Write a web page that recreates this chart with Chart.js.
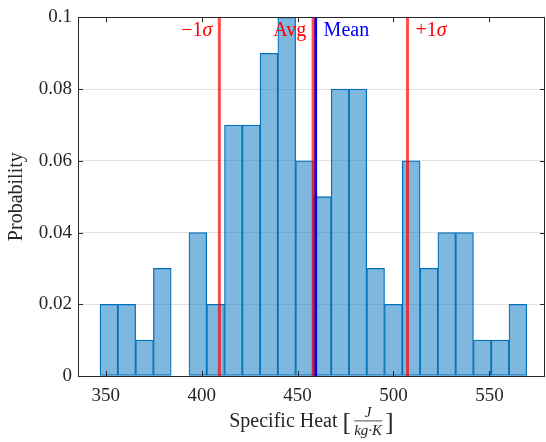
<!DOCTYPE html>
<html>
<head>
<meta charset="utf-8">
<script src="https://cdn.jsdelivr.net/npm/chart.js@4.4.0/dist/chart.umd.min.js"></script>
<style>
  html, body { margin: 0; padding: 0; background: #fff; }
  #wrap { width: 546px; height: 442px; }
</style>
</head>
<body>
<div id="wrap"><canvas id="hist"></canvas></div>
<script>
// histogram bins (centres) and their probabilities
var binCenters = [351.64, 360.91, 370.18, 379.45, 388.72, 397.99, 407.26, 416.53,
                  425.80, 435.07, 444.34, 453.61, 462.88, 472.15, 481.42, 490.69,
                  499.96, 509.23, 518.50, 527.77, 537.04, 546.31, 555.58, 564.85];
var probability = [0.02, 0.02, 0.01, 0.03, 0, 0.04, 0.02, 0.07,
                   0.07, 0.09, 0.10, 0.06, 0.05, 0.08, 0.08, 0.03,
                   0.02, 0.06, 0.03, 0.04, 0.04, 0.01, 0.01, 0.02];
var xTicks = [350, 400, 450, 500, 550];
var yTicks = [0, 0.02, 0.04, 0.06, 0.08, 0.1];

// vertical marker lines
var refNames = ['−1σ', 'Avg', 'Mean', '+1σ'];
var refValues = [409.2, 458.1, 459.4, 507.3];
var refColors = ['rgba(255,0,0,0.7)', 'rgba(255,0,0,0.7)', 'rgb(0,0,255)', 'rgba(255,0,0,0.7)'];
var refTextColors = ['#ff0000', '#ff0000', '#0000ff', '#ff0000'];
var refSide = ['left', 'left', 'right', 'right'];

var serif = '"Liberation Serif", "DejaVu Serif", serif';
var axisColor = '#262626';

var datasets = [{
  type: 'bar',
  data: binCenters.map(function (c, i) { return { x: c, y: probability[i] }; }),
  backgroundColor: 'rgba(0,114,189,0.5)',
  borderColor: 'rgb(0,114,189)',
  borderWidth: 0.6,
  borderSkipped: false,
  barPercentage: 1,
  categoryPercentage: 1,
  order: 2
}];
refValues.forEach(function (v, i) {
  datasets.push({
    type: 'line',
    data: [{ x: v, y: 0 }, { x: v, y: 0.1 }],
    borderColor: refColors[i],
    borderWidth: 3,
    pointRadius: 0,
    order: 1
  });
});

// draws text made of pieces, some italic
function drawRuns(ctx, runs, x, y, size, align) {
  var total = 0;
  runs.forEach(function (r) {
    ctx.font = (r[1] ? 'italic ' : '') + size + 'px ' + serif;
    total += ctx.measureText(r[0]).width;
  });
  var cx = align === 'right' ? x - total : x;
  ctx.textAlign = 'left';
  runs.forEach(function (r) {
    ctx.font = (r[1] ? 'italic ' : '') + size + 'px ' + serif;
    ctx.fillText(r[0], cx, y);
    cx += ctx.measureText(r[0]).width;
  });
}

var framePlugin = {
  id: 'frame',
  afterDraw: function (chart) {
    var ctx = chart.ctx, a = chart.chartArea;
    var xs = chart.scales.x, ys = chart.scales.y;
    ctx.save();
    // box
    ctx.strokeStyle = axisColor;
    ctx.lineWidth = 1;
    ctx.strokeRect(Math.round(a.left) + 0.5, Math.round(a.top) + 0.5,
                   Math.round(a.right - a.left) - 1, Math.round(a.bottom - a.top));
    // inward ticks
    ctx.beginPath();
    xTicks.forEach(function (t) {
      var px = Math.round(xs.getPixelForValue(t)) + 0.5;
      ctx.moveTo(px, a.bottom); ctx.lineTo(px, a.bottom - 5);
      ctx.moveTo(px, a.top); ctx.lineTo(px, a.top + 5);
    });
    yTicks.forEach(function (t) {
      var py = Math.round(ys.getPixelForValue(t)) + 0.5;
      ctx.moveTo(a.left, py); ctx.lineTo(a.left + 5, py);
      ctx.moveTo(a.right, py); ctx.lineTo(a.right - 5, py);
    });
    ctx.stroke();

    // marker labels
    ctx.textBaseline = 'alphabetic';
    refNames.forEach(function (name, i) {
      var px = xs.getPixelForValue(refValues[i]);
      ctx.fillStyle = refTextColors[i];
      var runs = name.indexOf('σ') >= 0 ? [[name.slice(0, -1), false], ['σ', true]] : [[name, false]];
      if (refSide[i] === 'left') drawRuns(ctx, runs, px - 7, 36, 20, 'right');
      else drawRuns(ctx, runs, px + 8, 36, 20, 'left');
    });

    // y title
    ctx.fillStyle = axisColor;
    ctx.save();
    ctx.translate(22, (a.top + a.bottom) / 2);
    ctx.rotate(-Math.PI / 2);
    ctx.font = '20px ' + serif;
    ctx.textAlign = 'center';
    ctx.fillText('Probability', 0, 0);
    ctx.restore();

    // x title: Specific Heat [ J / kg·K ]
    ctx.font = '20px ' + serif;
    var main = 'Specific Heat ';
    var wMain = ctx.measureText(main).width;
    ctx.font = '26px ' + serif;
    var wBr = ctx.measureText('[').width;
    ctx.font = 'italic 15px ' + serif;
    var wDen = ctx.measureText('kg·K').width;
    var total = wMain + wBr * 2 + wDen + 6;
    var x0 = (a.left + a.right) / 2 - total / 2;
    var base = 427;
    ctx.textAlign = 'left';
    ctx.font = '20px ' + serif;
    ctx.fillText(main, x0, base);
    ctx.font = '26px ' + serif;
    ctx.fillText('[', x0 + wMain, base + 3);
    var fx = x0 + wMain + wBr + 3;
    ctx.font = 'italic 15px ' + serif;
    ctx.textAlign = 'center';
    ctx.fillText('J', fx + wDen / 2, base - 10);
    ctx.fillText('kg·K', fx + wDen / 2, base + 8);
    ctx.fillRect(fx, base - 6.5, wDen, 0.8);
    ctx.textAlign = 'left';
    ctx.font = '26px ' + serif;
    ctx.fillText(']', fx + wDen + 3, base + 3);
    ctx.restore();
  }
};

new Chart(document.getElementById('hist'), {
  data: { datasets: datasets },
  options: {
    responsive: true,
    maintainAspectRatio: false,
    animation: false,
    layout: { padding: { top: 16, right: 1, left: 0, bottom: 0 } },
    plugins: { legend: { display: false }, tooltip: { enabled: false } },
    scales: {
      x: {
        type: 'linear',
        offset: false,
        min: 335.5,
        max: 579,
        afterBuildTicks: function (s) { s.ticks = xTicks.map(function (v) { return { value: v }; }); },
        afterFit: function (s) { s.height = 66; },
        grid: { display: false, drawTicks: false, offset: false },
        border: { display: false },
        ticks: { color: axisColor, font: { family: serif, size: 19 }, padding: 9, maxRotation: 0 }
      },
      y: {
        min: 0,
        max: 0.1,
        afterBuildTicks: function (s) { s.ticks = yTicks.map(function (v) { return { value: v }; }); },
        afterFit: function (s) { s.width = 78; },
        grid: { color: '#e3e3e3', drawTicks: false },
        border: { display: false },
        ticks: {
          color: axisColor, font: { family: serif, size: 19 }, padding: 6,
          callback: function (v) { return String(v); }
        }
      }
    }
  },
  plugins: [framePlugin]
});
</script>
</body>
</html>
